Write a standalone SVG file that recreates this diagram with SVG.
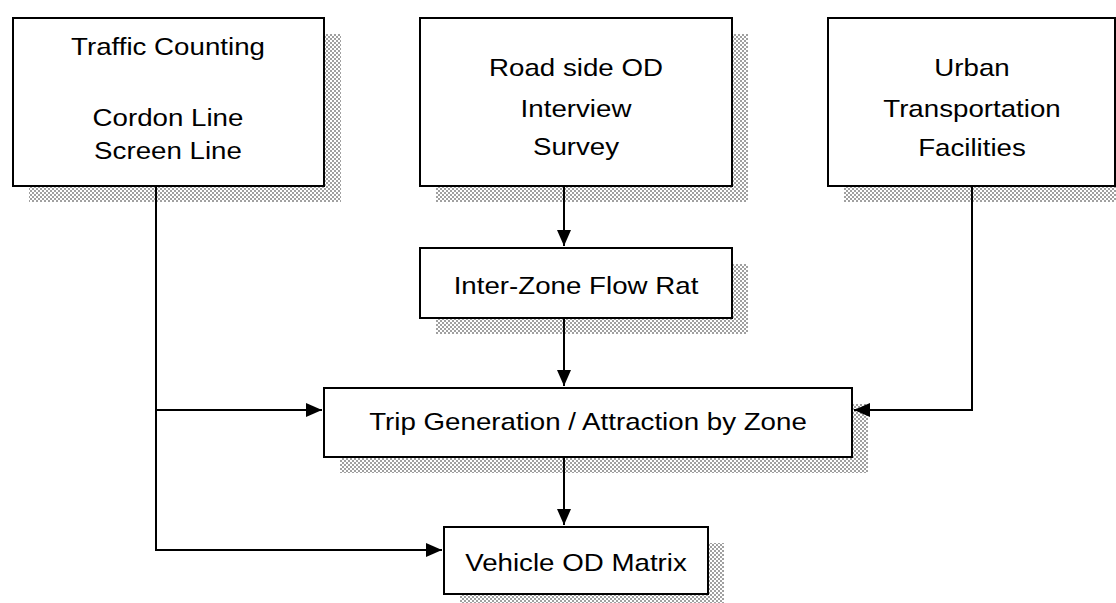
<svg xmlns="http://www.w3.org/2000/svg" width="1116" height="603" viewBox="0 0 1116 603">
<style>
.box{fill:#fff;stroke:#000;stroke-width:2}
.shadow{fill:url(#hatch);stroke:none}
.lbl{font-family:"Liberation Sans",Arial,sans-serif;font-size:24px;fill:#000;text-anchor:middle}
.conn{fill:none;stroke:#000;stroke-width:2}
</style>
<defs>
<pattern id="hatch" width="4" height="4" patternUnits="userSpaceOnUse">
<rect width="4" height="4" fill="#fff"/>
<rect x="0" y="0" width="2" height="2" fill="#a0a0a0"/>
<rect x="2" y="2" width="2" height="2" fill="#a0a0a0"/>
</pattern>
<marker id="arr" markerUnits="userSpaceOnUse" markerWidth="18" markerHeight="15" refX="16" refY="7" orient="auto">
<path d="M0,0 L16,7 L0,14 Z" fill="#000"/>
</marker>
</defs>
<g id="traffic-counting">
<rect class="shadow" x="29" y="34" width="312" height="168"/>
<rect class="box" x="13" y="18" width="311" height="168"/>
<text class="lbl" transform="translate(168 55) scale(1.154 1)">Traffic Counting</text>
<text class="lbl" transform="translate(168 126) scale(1.154 1)">Cordon Line</text>
<text class="lbl" transform="translate(168 159) scale(1.154 1)">Screen Line</text>
</g>
<g id="roadside-od">
<rect class="shadow" x="436" y="34" width="312" height="168"/>
<rect class="box" x="420" y="18" width="312" height="168"/>
<text class="lbl" transform="translate(576 76) scale(1.154 1)">Road side OD</text>
<text class="lbl" transform="translate(576 117) scale(1.154 1)">Interview</text>
<text class="lbl" transform="translate(576 155) scale(1.154 1)">Survey</text>
</g>
<g id="urban-facilities">
<rect class="shadow" x="844" y="34" width="290" height="168"/>
<rect class="box" x="828" y="18" width="287" height="168"/>
<text class="lbl" transform="translate(972 76) scale(1.154 1)">Urban</text>
<text class="lbl" transform="translate(972 117) scale(1.154 1)">Transportation</text>
<text class="lbl" transform="translate(972 156) scale(1.154 1)">Facilities</text>
</g>
<g id="inter-zone">
<rect class="shadow" x="436" y="264" width="312" height="70"/>
<rect class="box" x="420" y="248" width="312" height="70"/>
<text class="lbl" transform="translate(576 294) scale(1.154 1)">Inter-Zone Flow Rat</text>
</g>
<g id="trip-generation">
<rect class="shadow" x="340" y="404" width="528" height="69"/>
<rect class="box" x="324" y="388" width="528" height="69"/>
<text class="lbl" transform="translate(588 430) scale(1.154 1)">Trip Generation / Attraction by Zone</text>
</g>
<g id="vehicle-od">
<rect class="shadow" x="460" y="543" width="264" height="67"/>
<rect class="box" x="444" y="527" width="264" height="67"/>
<text class="lbl" transform="translate(576 571) scale(1.154 1)">Vehicle OD Matrix</text>
</g>
<g id="connectors">
<path class="conn" d="M156 187 V550 H442" marker-end="url(#arr)"/>
<path class="conn" d="M156 410 H322" marker-end="url(#arr)"/>
<path class="conn" d="M564 187 V246" marker-end="url(#arr)"/>
<path class="conn" d="M564 319 V386" marker-end="url(#arr)"/>
<path class="conn" d="M972 187 V410 H854" marker-end="url(#arr)"/>
<path class="conn" d="M564 458 V525" marker-end="url(#arr)"/>
</g>
</svg>
